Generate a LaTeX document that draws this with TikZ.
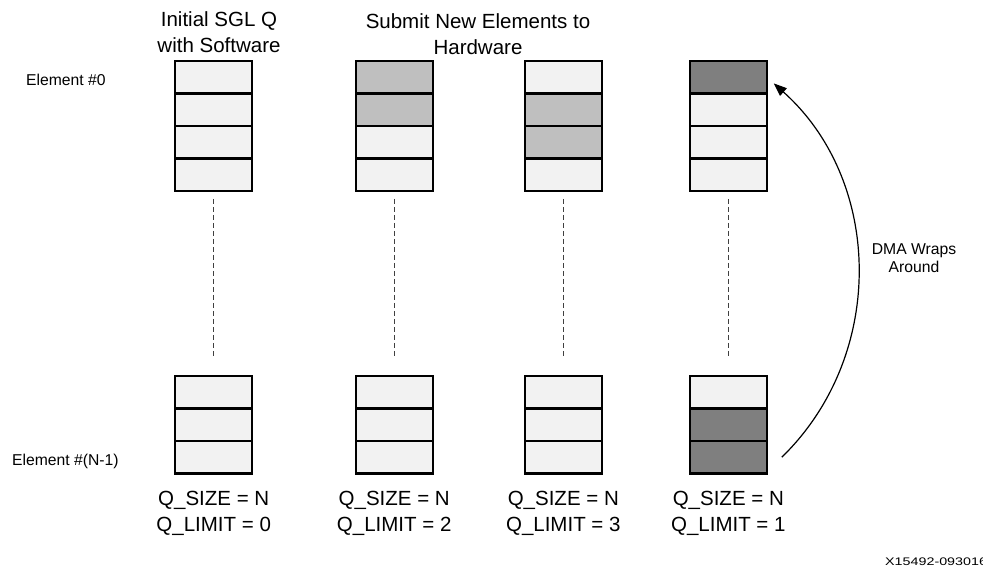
\documentclass[tikz,border=0pt]{standalone}
\usepackage{fontspec}
\setmainfont{Liberation Sans}
\usetikzlibrary{arrows.meta}
\definecolor{cLight}{HTML}{F2F2F2}
\definecolor{cMid}{HTML}{BFBFBF}
\definecolor{cDark}{HTML}{7F7F7F}
\begin{document}
\begin{tikzpicture}[x=1pt,y=-1pt,
  cell/.style={draw=black, line width=2.4pt, minimum width=77pt, minimum height=32.4pt, inner sep=0pt, outer sep=0pt, fill=cLight},
  dashline/.style={draw=black!75, line width=1.2pt, dash pattern=on 5pt off 3pt},
  bigtext/.style={font=\fontsize{20.5}{25.5}\selectfont, align=center, inner sep=0pt},
  smalltext/.style={font=\fontsize{15.7}{18.5}\selectfont, align=center, inner sep=0pt},
  wraparrow/.style={-{Triangle[length=13pt,width=10pt]}, line width=1.2pt, draw=black}]
\useasboundingbox (0,0) rectangle (983,566);
% top stacks
\foreach \c/\x/\fa/\fb/\fc/\fd in {1/213.7/cLight/cLight/cLight/cLight, 2/394.2/cMid/cMid/cLight/cLight, 3/563.3/cLight/cMid/cMid/cLight, 4/728.3/cDark/cLight/cLight/cLight}{
  \node[cell, fill=\fa] (c\c t1) at (\x, 77.4) {};
  \node[cell, fill=\fb] (c\c t2) at (\x, 109.8) {};
  \node[cell, fill=\fc] (c\c t3) at (\x, 142.2) {};
  \node[cell, fill=\fd] (c\c t4) at (\x, 174.6) {};
}
% bottom stacks
\foreach \c/\x/\fa/\fb/\fc in {1/213.7/cLight/cLight/cLight, 2/394.2/cLight/cLight/cLight, 3/563.3/cLight/cLight/cLight, 4/728.3/cLight/cDark/cDark}{
  \node[cell, fill=\fa] (c\c b1) at (\x, 392.4) {};
  \node[cell, fill=\fb] (c\c b2) at (\x, 424.8) {};
  \node[cell, fill=\fc] (c\c b3) at (\x, 457.2) {};
  \draw[dashline, shorten <=8pt, shorten >=20pt] (c\c t4.south) -- (c\c b1.north);
}
% titles (anchor base = baseline of last line)
\node[bigtext, anchor=base] (title1) at (219, 52) {Initial SGL Q\\with Software};
\node[bigtext, anchor=base] (title2) at (478, 54) {Submit New Elements to\\Hardware};
% row labels
\node[smalltext, anchor=base west] (el0) at (26, 85) {Element \#0};
\node[smalltext, anchor=base west] (elN) at (12, 465) {Element \#(N-1)};
% bottom labels
\node[bigtext, anchor=base] (q1) at (213.7, 531) {Q\_SIZE = N\\Q\_LIMIT = 0};
\node[bigtext, anchor=base] (q2) at (394.2, 531) {Q\_SIZE = N\\Q\_LIMIT = 2};
\node[bigtext, anchor=base] (q3) at (563.3, 531) {Q\_SIZE = N\\Q\_LIMIT = 3};
\node[bigtext, anchor=base] (q4) at (728.3, 531) {Q\_SIZE = N\\Q\_LIMIT = 1};
% wrap arrow
\coordinate (wrapS) at ([xshift=15pt]c4b3.east);
\coordinate (wrapE) at ([xshift=7pt,yshift=-6pt]c4t1.east);
\draw[wraparrow] (wrapS) to[bend right=47] (wrapE);
\node[smalltext, anchor=base] (dma) at (914, 272.5) {DMA Wraps\\Around};
% figure id
\node[inner sep=0pt, anchor=base west, font=\fontsize{11}{13}\selectfont] (figid) at (885, 565) {\scalebox{1.3}[1]{X15492-093016}};
\end{tikzpicture}
\end{document}
